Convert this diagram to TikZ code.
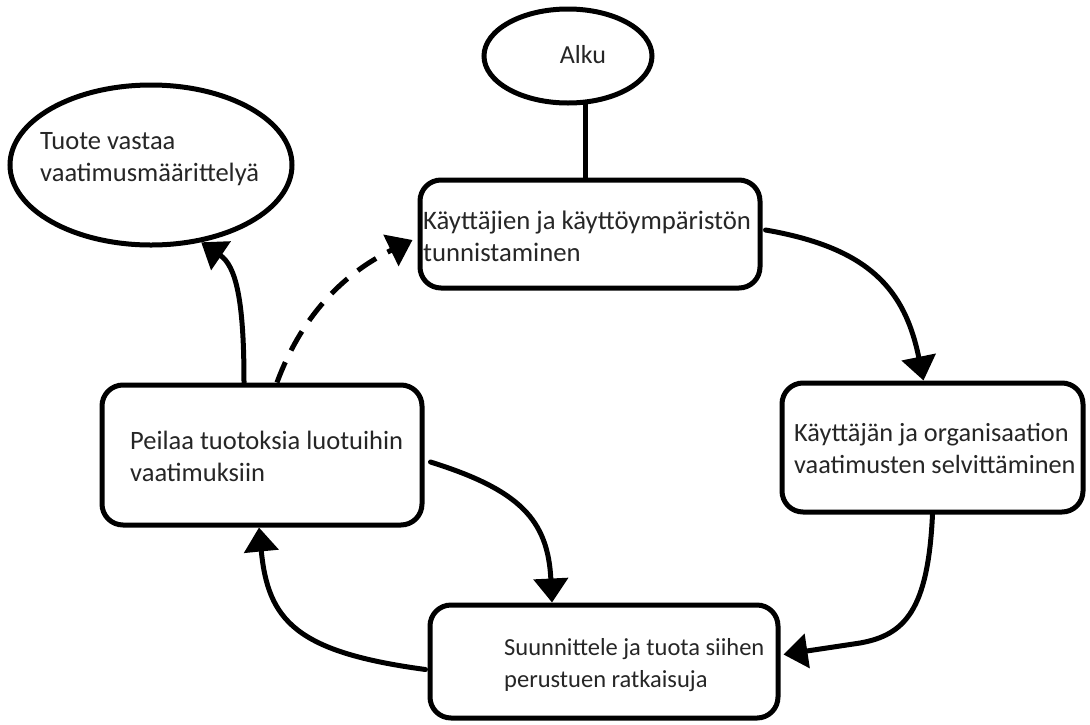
\documentclass[tikz,border=0pt]{standalone}
\usepackage{fontspec}
\setmainfont{Carlito}
\usetikzlibrary{shapes.geometric,arrows.meta,calc}
\tikzset{
  boxshape/.style={draw=black, line width=5pt, rounded corners=21pt, fill=white, inner sep=0pt},
  ellshape/.style={draw=black, line width=5pt, ellipse, fill=white, inner sep=0pt},
  txt/.style={inner sep=0pt, anchor=west, align=left, text=black!85, font=\fontsize{#1}{32pt}\selectfont},
  txt/.default=26pt,
  conn/.style={draw=black, line width=5pt, line cap=round},
  arr/.style={conn, -{Triangle[width=34pt,length=24pt]}},
  dashline/.style={dash pattern=on 22pt off 13pt, line cap=butt},
}
\begin{document}
\begin{tikzpicture}[x=1pt,y=-1pt]
\useasboundingbox[fill=white] (0,0) rectangle (1090,724);
% shapes
\node[ellshape, minimum width=168pt, minimum height=94pt] (alku) at (568,56) {};
\node[ellshape, minimum width=282pt, minimum height=160pt] (tuote) at (151,165) {};
\node[boxshape, minimum width=340pt, minimum height=108pt] (b1) at (590,234) {};
\node[boxshape, minimum width=301pt, minimum height=129pt] (b2) at (932.5,447.5) {};
\node[boxshape, minimum width=320pt, minimum height=140pt] (b3) at (262,455) {};
\node[boxshape, minimum width=348pt, minimum height=113pt] (b4) at (604,661.5) {};
% texts
\node[txt, anchor=center] (ta) at (583,55) {Alku};
\node[txt=26.5pt] (tt) at (40,159) {Tuote vastaa\\vaatimusmäärittelyä};
\node[txt=26.7pt] (t1) at (423,236) {Käyttäjien ja käyttöympäristön\\tunnistaminen};
\node[txt=26.3pt] (t2) at (794,448) {Käyttäjän ja organisaation\\vaatimusten selvittäminen};
\node[txt=26.5pt] (t3) at (130,456) {Peilaa tuotoksia luotuihin\\vaatimuksiin};
\node[txt=24.5pt] (t4) at (504,665) {Suunnittele ja tuota siihen\\perustuen ratkaisuja};
% connectors
\draw[conn] (alku.-70) -- (alku.-70 |- b1.north);
\draw[arr] ($(b1.east)+(3,-4)$) .. controls (870,248) and (905,290) .. ($(b2.north)+(-9,0)$);
\draw[arr] (b2.south) .. controls (928,610) and (905,635) .. (860,643) -- ($(b4.east)+(3,-7)$);
\draw[arr] ($(b4.west)+(-2,8)$) .. controls (295,652) and (268,620) .. ($(b3.south)+(-3,0)$);
\draw[arr] ($(b3.east)+(6,7)$) .. controls (520,490) and (548,520) .. ($(b4.north)+(-52,0)$);
\draw[arr] ($(b3.north)+(-18,0)$) .. controls (244,300) and (236,266) .. (tuote.-57);
\draw[arr, dashline] ($(b3.north)+(15,0)$) .. controls (300,320) and (340,275) .. ($(b1.west)+(-5,6)$);
\end{tikzpicture}
\end{document}
